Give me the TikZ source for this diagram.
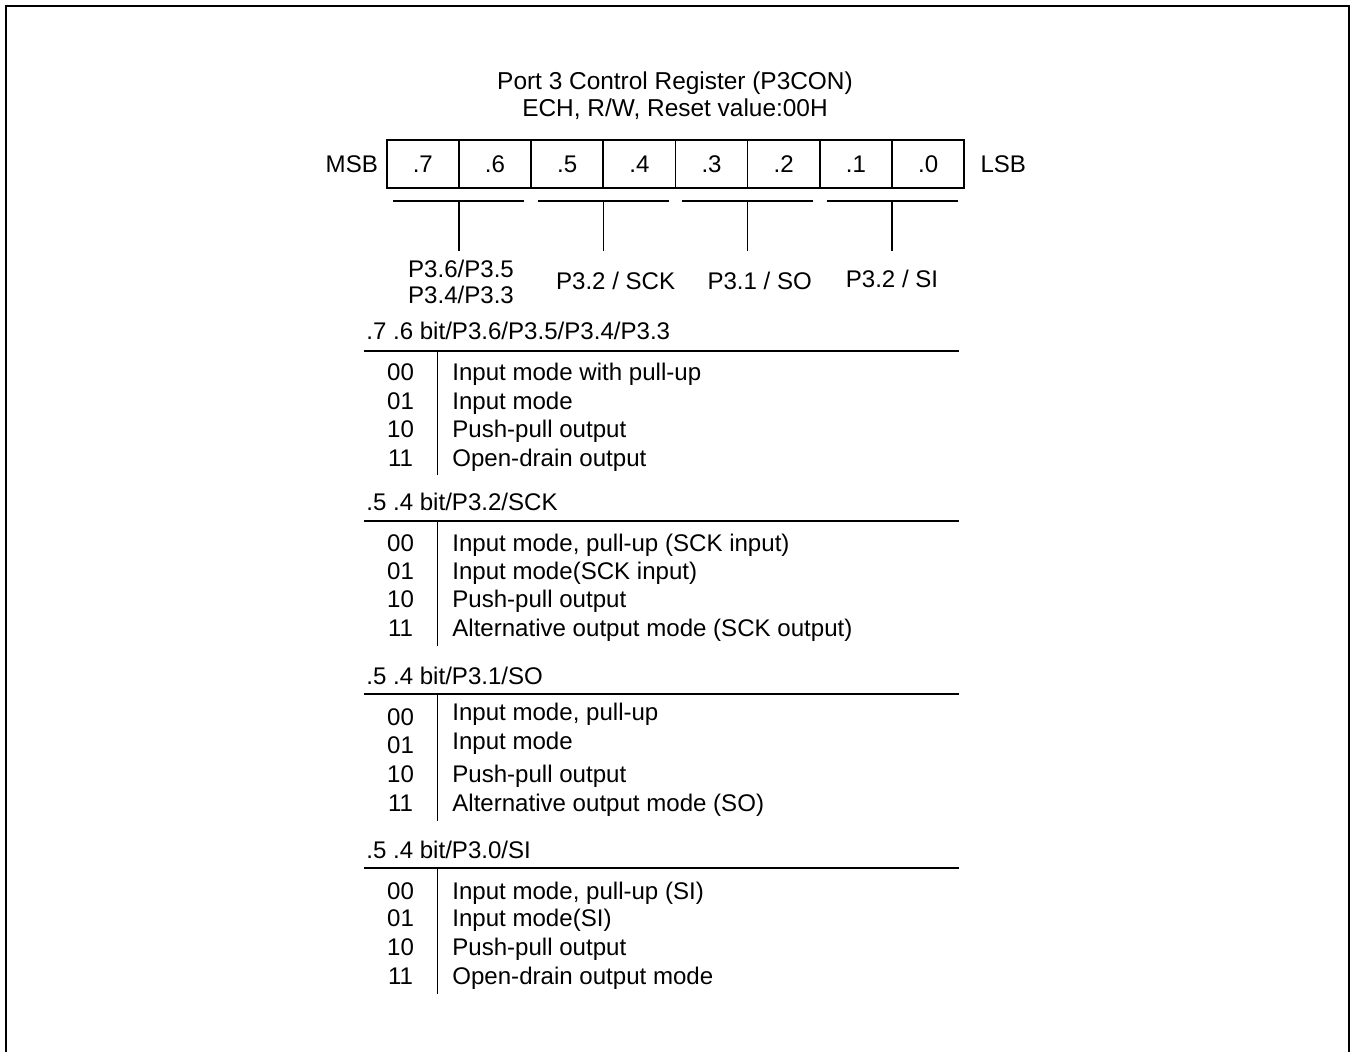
\documentclass[tikz,border=0pt]{standalone}
\usepackage{fontspec}
\setmainfont{Liberation Sans}
\usetikzlibrary{positioning}

\begin{document}
\begin{tikzpicture}[
    x=0.02cm, y=-0.02cm,
    font=\fontsize{13.7pt}{14.7pt}\selectfont,
    bitcell/.style={rectangle, draw, line width=0.95pt, outer sep=0pt, inner sep=0pt, minimum width=1.444cm, minimum height=0.954cm},
    txt/.style={inner sep=0pt, anchor=base},
    code/.style={inner sep=0pt, anchor=base},
    desc/.style={inner sep=0pt, anchor=base west},
    head/.style={inner sep=0pt, anchor=base west},
    rule/.style={line width=0.95pt},
    thinrule/.style={line width=0.75pt}
]
\useasboundingbox (0,0) rectangle (1354,1052);

% Outer frame (open at the bottom)
\draw[line width=1.2pt] (6,1052) -- (6,6) -- (1349,6) -- (1349,1052);

% Title
\node[txt, align=center, font=\fontsize{13.9pt}{15pt}\selectfont] (title) at (675,116) {Port 3 Control Register (P3CON)\\ECH, R/W, Reset value:00H};

% Register bits
\node[bitcell] (b7) at (422.8,163.9) {.7};
\node[bitcell, right=0pt of b7] (b6) {.6};
\node[bitcell, right=0pt of b6] (b5) {.5};
\node[bitcell, right=0pt of b5] (b4) {.4};
\node[bitcell, right=0pt of b4] (b3) {.3};
\node[bitcell, right=0pt of b3] (b2) {.2};
\node[bitcell, right=0pt of b2] (b1) {.1};
\node[bitcell, right=0pt of b1] (b0) {.0};
\node[inner sep=0pt, left=0.17cm of b7] (msb) {MSB};
\node[inner sep=0pt, right=0.32cm of b0] (lsb) {LSB};

% Bit pair brackets
\draw[rule] ([xshift=-1.31cm, yshift=-0.26cm]b7.south east) -- ([xshift=1.31cm, yshift=-0.26cm]b7.south east);
\draw[rule] ([xshift=-1.31cm, yshift=-0.26cm]b5.south east) -- ([xshift=1.31cm, yshift=-0.26cm]b5.south east);
\draw[rule] ([xshift=-1.31cm, yshift=-0.26cm]b3.south east) -- ([xshift=1.31cm, yshift=-0.26cm]b3.south east);
\draw[rule] ([xshift=-1.31cm, yshift=-0.26cm]b1.south east) -- ([xshift=1.31cm, yshift=-0.26cm]b1.south east);
\draw[thinrule] ([yshift=-0.26cm]b7.south east) -- ++(0,50);
\draw[thinrule] ([yshift=-0.26cm]b5.south east) -- ++(0,50);
\draw[thinrule] ([yshift=-0.26cm]b3.south east) -- ++(0,50);
\draw[thinrule] ([yshift=-0.26cm]b1.south east) -- ++(0,50);

% Pin labels
\node[txt, align=center] (pin76) at (461,303) {P3.6/P3.5\\P3.4/P3.3};
\node[txt] (pin54) at (615.6,289) {P3.2 / SCK};
\node[txt] (pin32) at (759.7,289) {P3.1 / SO};
\node[txt] (pin10) at (892,287) {P3.2 / SI};

% .7 .6 bits
\node[head] (hdA) at (366,339) {.7 .6 bit/P3.6/P3.5/P3.4/P3.3};
\draw[rule] (364,350.7) -- (959,350.7);
\draw[thinrule] (437.5,350.7) -- (437.5,475);
\node[code] (cA0) at (400.5,380) {00};   \node[desc] (dA0) at (452,380) {Input mode with pull-up};
\node[code] (cA1) at (400.5,409) {01};   \node[desc] (dA1) at (452,409) {Input mode};
\node[code] (cA2) at (400.5,437.7) {10}; \node[desc] (dA2) at (452,437.7) {Push-pull output};
\node[code] (cA3) at (400.5,466.7) {11}; \node[desc] (dA3) at (452,466.7) {Open-drain output};

% .5 .4 bits - SCK
\node[head] (hdB) at (366,510.7) {.5 .4 bit/P3.2/SCK};
\draw[rule] (364,520.7) -- (959,520.7);
\draw[thinrule] (437.5,520.7) -- (437.5,646);
\node[code] (cB0) at (400.5,551) {00};   \node[desc] (dB0) at (452,551) {Input mode, pull-up (SCK input)};
\node[code] (cB1) at (400.5,579.3) {01}; \node[desc] (dB1) at (452,579.3) {Input mode(SCK input)};
\node[code] (cB2) at (400.5,607.3) {10}; \node[desc] (dB2) at (452,607.3) {Push-pull output};
\node[code] (cB3) at (400.5,636.7) {11}; \node[desc] (dB3) at (452,636.7) {Alternative output mode (SCK output)};

% .5 .4 bits - SO
\node[head] (hdC) at (366,684) {.5 .4 bit/P3.1/SO};
\draw[rule] (364,694) -- (959,694);
\draw[thinrule] (437.5,694) -- (437.5,820.7);
\node[code] (cC0) at (400.5,725) {00};   \node[desc] (dC0) at (452,720) {Input mode, pull-up};
\node[code] (cC1) at (400.5,753) {01};   \node[desc] (dC1) at (452,749) {Input mode};
\node[code] (cC2) at (400.5,782.7) {10}; \node[desc] (dC2) at (452,782.7) {Push-pull output};
\node[code] (cC3) at (400.5,811.7) {11}; \node[desc] (dC3) at (452,811.7) {Alternative output mode (SO)};

% .5 .4 bits - SI
\node[head] (hdD) at (366,858.3) {.5 .4 bit/P3.0/SI};
\draw[rule] (364,868.3) -- (959,868.3);
\draw[thinrule] (437.5,868.3) -- (437.5,994.3);
\node[code] (cD0) at (400.5,899) {00};   \node[desc] (dD0) at (452,899) {Input mode, pull-up (SI)};
\node[code] (cD1) at (400.5,926.7) {01}; \node[desc] (dD1) at (452,926.7) {Input mode(SI)};
\node[code] (cD2) at (400.5,955) {10};   \node[desc] (dD2) at (452,955) {Push-pull output};
\node[code] (cD3) at (400.5,984) {11};   \node[desc] (dD3) at (452,984) {Open-drain output mode};

\end{tikzpicture}
\end{document}
